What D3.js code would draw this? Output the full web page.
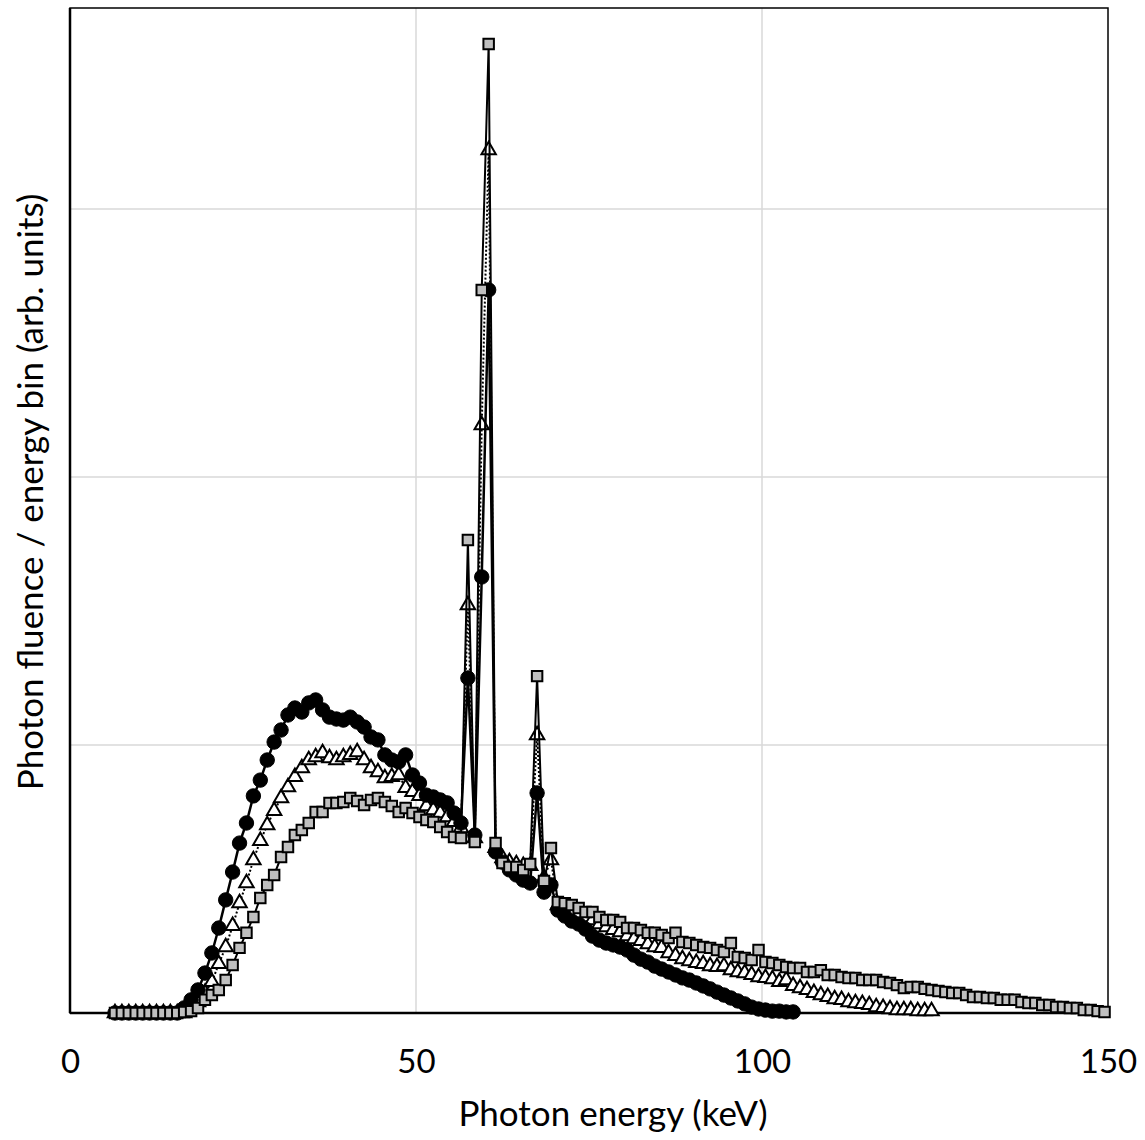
<!DOCTYPE html>
<html>
<head>
<meta charset="utf-8">
<script src="https://cdn.jsdelivr.net/npm/d3@7"></script>
<style>
  html, body { margin: 0; padding: 0; background: #fff; }
  svg { display: block; }
  text { font-family: Lato, "Open Sans", "Liberation Sans", sans-serif; fill: #000; }
</style>
</head>
<body>
<svg id="chart" width="1145" height="1140"></svg>
<script>
// ---------------- DATA ----------------
// Energy bins are 1 keV wide; first bin centred at 6.5 keV.
const firstBin = 6.5;

// Series with filled black circles (solid line)
const circleSeries = [
  0,0,0,0,0,0,0,0,0,0,                 // 6.5 - 15.5
  0.019,0.049,0.086,0.149,0.224,0.317,0.422,0.526,0.634,0.709,   // 16.5 - 25.5
  0.810,0.869,0.944,1.011,1.056,1.112,1.138,1.123,1.157,1.168,   // 26.5 - 35.5
  1.131,1.104,1.097,1.093,1.104,1.086,1.067,1.030,1.019,0.963,   // 36.5 - 45.5
  0.944,0.937,0.963,0.888,0.858,0.813,0.806,0.795,0.784,0.746,   // 46.5 - 55.5
  0.709,1.250,0.664,1.627,2.698,0.601,0.563,0.534,0.515,0.496,   // 56.5 - 65.5
  0.485,0.821,0.451,0.478,0.384,0.362,0.343,0.332,0.313,0.287,   // 66.5 - 75.5
  0.272,0.261,0.254,0.246,0.235,0.216,0.201,0.190,0.175,0.164,   // 76.5 - 85.5
  0.153,0.142,0.131,0.123,0.112,0.101,0.090,0.078,0.067,0.056,   // 86.5 - 95.5
  0.045,0.034,0.022,0.015,0.011,0.007,0.007,0.004,0.004          // 96.5 - 104.5
];

// Series with open triangles (dotted line)
const triangleSeries = [
  0,0,0,0,0,0,0,0,0,0,0,               // 6.5 - 16.5
  0.019,0.041,0.075,0.116,0.183,0.246,0.325,0.410,0.485,0.571,   // 17.5 - 26.5
  0.642,0.701,0.754,0.802,0.843,0.881,0.914,0.944,0.955,0.970,   // 27.5 - 36.5
  0.951,0.944,0.955,0.963,0.974,0.944,0.914,0.899,0.877,0.881,   // 37.5 - 46.5
  0.888,0.840,0.825,0.810,0.772,0.757,0.746,0.731,0.713,0.690,   // 47.5 - 56.5
  1.522,0.653,2.194,3.220,0.616,0.578,0.563,0.556,0.549,0.549,   // 57.5 - 66.5
  1.037,0.504,0.571,0.403,0.392,0.381,0.369,0.358,0.347,0.332,   // 67.5 - 76.5
  0.321,0.310,0.302,0.287,0.276,0.269,0.257,0.246,0.243,0.224,   // 77.5 - 86.5
  0.213,0.201,0.194,0.187,0.183,0.175,0.172,0.175,0.160,0.153,   // 87.5 - 96.5
  0.149,0.142,0.134,0.131,0.127,0.116,0.123,0.101,0.093,0.086,   // 97.5 - 106.5
  0.075,0.067,0.060,0.052,0.049,0.041,0.037,0.034,0.030,0.022,   // 107.5 - 116.5
  0.019,0.015,0.011,0.011,0.011,0.007,0.007,0.007                // 117.5 - 124.5
];

// Series with grey squares (thin solid line)
const squareSeries = [
  0,0,0,0,0,0,0,0,0,0,                 // 6.5 - 15.5
  0.004,0.007,0.019,0.049,0.067,0.086,0.123,0.179,0.243,0.299,   // 16.5 - 25.5
  0.358,0.429,0.478,0.515,0.582,0.619,0.664,0.683,0.709,0.750,   // 26.5 - 35.5
  0.750,0.784,0.784,0.787,0.802,0.791,0.776,0.795,0.802,0.787,   // 36.5 - 45.5
  0.772,0.750,0.765,0.746,0.731,0.720,0.713,0.694,0.675,0.657,   // 46.5 - 55.5
  0.653,1.765,0.638,2.698,3.616,0.634,0.560,0.545,0.545,0.534,   // 56.5 - 65.5
  0.556,1.257,0.493,0.616,0.414,0.410,0.403,0.392,0.377,0.377,   // 66.5 - 75.5
  0.358,0.347,0.347,0.340,0.317,0.317,0.310,0.299,0.299,0.291,   // 76.5 - 85.5
  0.280,0.299,0.265,0.261,0.254,0.246,0.243,0.235,0.228,0.261,   // 86.5 - 95.5
  0.209,0.205,0.198,0.235,0.190,0.187,0.179,0.172,0.168,0.168,   // 96.5 - 105.5
  0.153,0.153,0.160,0.142,0.142,0.134,0.131,0.131,0.123,0.123,   // 106.5 - 115.5
  0.123,0.116,0.112,0.104,0.093,0.097,0.097,0.090,0.086,0.082,   // 116.5 - 125.5
  0.078,0.075,0.075,0.067,0.060,0.060,0.056,0.056,0.049,0.049,   // 126.5 - 135.5
  0.049,0.041,0.037,0.037,0.030,0.030,0.022,0.022,0.019,0.019,   // 136.5 - 145.5
  0.011,0.011,0.007,0.004                                        // 146.5 - 149.5
];

const xTicks = [0, 50, 100, 150];
const yGridValues = [1, 2, 3];
const xDomain = [0, 150];
const yDomain = [0, 3.75];
const xTitle = "Photon energy (keV)";
const yTitle = "Photon fluence / energy bin (arb. units)";

// ---------------- LAYOUT ----------------
const svg = d3.select("#chart");
const M = { left: 70, right: 1108, top: 8, bottom: 1013 };

const x = d3.scaleLinear().domain(xDomain).range([M.left, M.right]);
const y = d3.scaleLinear().domain(yDomain).range([M.bottom, M.top]);

const toPoints = arr => arr.map((v, i) => ({ e: firstBin + i, v }));
const circles = toPoints(circleSeries);
const triangles = toPoints(triangleSeries);
const squares = toPoints(squareSeries);

// Gridlines
const grid = svg.append("g");
grid.selectAll("line.gx").data(xTicks.filter(t => t > xDomain[0] && t < xDomain[1]))
  .join("line")
  .attr("x1", d => x(d)).attr("x2", d => x(d))
  .attr("y1", M.top).attr("y2", M.bottom)
  .attr("stroke", "#d9d9d9").attr("stroke-width", 1.5);
grid.selectAll("line.gy").data(yGridValues)
  .join("line")
  .attr("x1", M.left).attr("x2", M.right)
  .attr("y1", d => y(d)).attr("y2", d => y(d))
  .attr("stroke", "#d9d9d9").attr("stroke-width", 1.5);

// Frame
svg.append("rect")
  .attr("x", M.left).attr("y", M.top)
  .attr("width", M.right - M.left).attr("height", M.bottom - M.top)
  .attr("fill", "none").attr("stroke", "#000").attr("stroke-width", 1.5);
svg.append("line").attr("x1", M.left).attr("x2", M.left).attr("y1", M.top).attr("y2", M.bottom)
  .attr("stroke", "#000").attr("stroke-width", 2.5);
svg.append("line").attr("x1", M.left).attr("x2", M.right).attr("y1", M.bottom).attr("y2", M.bottom)
  .attr("stroke", "#000").attr("stroke-width", 2.5);

// X axis labels via d3 axis (no tick marks, no domain)
const xAxis = d3.axisBottom(x).tickValues(xTicks).tickSize(0).tickPadding(0).tickFormat(d3.format("d"));
const gx = svg.append("g").attr("transform", `translate(0, ${M.bottom})`).call(xAxis);
gx.select(".domain").remove();
gx.selectAll("text")
  .attr("dy", null).attr("y", 60)
  .style("font-size", "33px")
  .style("font-family", "Lato, 'Open Sans', sans-serif")
  .attr("fill", "#000");

// Axis titles
svg.append("text")
  .attr("x", 613).attr("y", 1126)
  .attr("text-anchor", "middle")
  .style("font-size", "35px")
  .text(xTitle);
svg.append("text")
  .attr("transform", `translate(43, 492) rotate(-90)`)
  .attr("text-anchor", "middle")
  .style("font-size", "35px")
  .text(yTitle);

const line = d3.line().x(d => x(d.e)).y(d => y(d.v));

// Triangles series (bottom layer)
svg.append("path").datum(triangles)
  .attr("d", line).attr("fill", "none")
  .attr("stroke", "#000").attr("stroke-width", 2)
  .attr("stroke-dasharray", "2,2");
svg.append("g").selectAll("path").data(triangles).join("path")
  .attr("transform", d => `translate(${x(d.e)},${y(d.v)})`)
  .attr("d", d3.symbol(d3.symbolTriangle, 90)())
  .attr("fill", "#fff").attr("stroke", "#000").attr("stroke-width", 2);

// Circles series
svg.append("path").datum(circles)
  .attr("d", line).attr("fill", "none")
  .attr("stroke", "#000").attr("stroke-width", 2.5);
svg.append("g").selectAll("circle").data(circles).join("circle")
  .attr("cx", d => x(d.e)).attr("cy", d => y(d.v)).attr("r", 7.2)
  .attr("fill", "#000").attr("stroke", "#000").attr("stroke-width", 1);

// Squares series (top layer)
svg.append("path").datum(squares)
  .attr("d", line).attr("fill", "none")
  .attr("stroke", "#000").attr("stroke-width", 2);
svg.append("g").selectAll("path").data(squares).join("path")
  .attr("transform", d => `translate(${x(d.e)},${y(d.v)})`)
  .attr("d", d3.symbol(d3.symbolSquare, 110)())
  .attr("fill", "#bfbfbf").attr("stroke", "#000").attr("stroke-width", 2);
</script>
</body>
</html>
